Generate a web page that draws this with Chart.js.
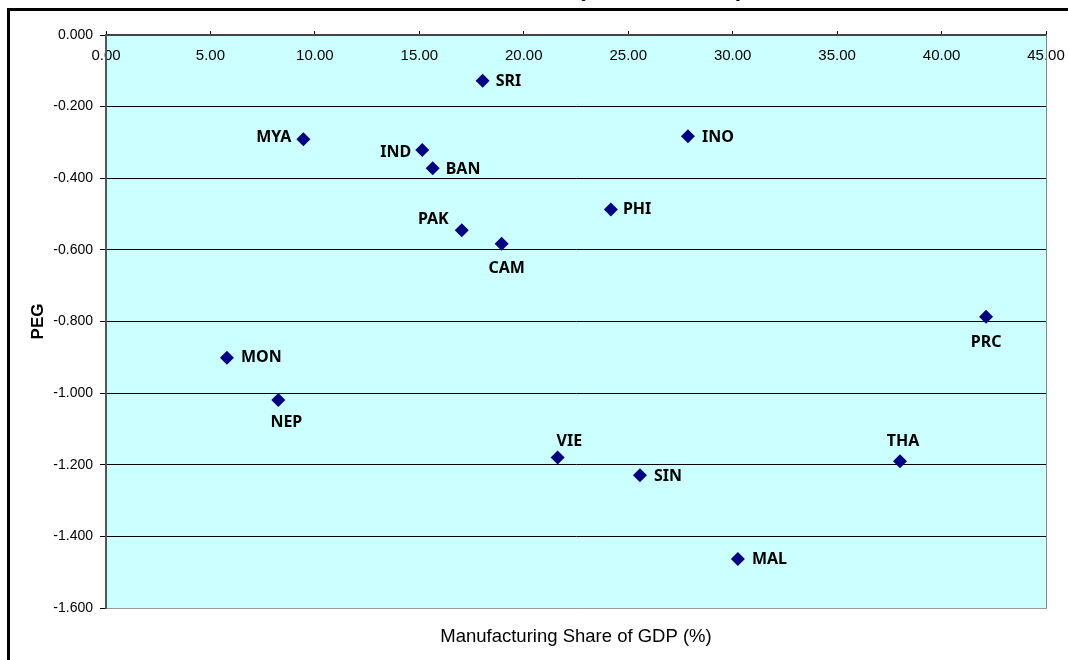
<!DOCTYPE html>
<html>
<head>
<meta charset="utf-8">
<script src="https://cdn.jsdelivr.net/npm/chart.js@4/dist/chart.umd.min.js"></script>
<style>
  html, body { margin: 0; padding: 0; background: #fff; }
  #wrap { position: relative; width: 1068px; height: 660px; overflow: hidden; }
  #frame { position: absolute; left: 7px; top: 8px; width: 1100px; height: 700px;
           border-left: 3px solid #000; border-top: 3px solid #000; }
  .paren { position: absolute; top: -24px; font: bold 22px "Liberation Sans", Arial, sans-serif; color: #000; }
  canvas { position: absolute; left: 0; top: 0; }
</style>
</head>
<body>
<div id="wrap">
  <div id="frame"></div>
  <span class="paren" style="left:578px">(</span>
  <span class="paren" style="left:736px">)</span>
  <canvas id="pegChart" width="1068" height="660"></canvas>
</div>
<script>
const countries = ['SRI', 'MYA', 'IND', 'BAN', 'PAK', 'CAM', 'INO', 'PHI', 'MON', 'NEP', 'VIE', 'PRC', 'THA', 'SIN', 'MAL'];
const manufShare = [18.03, 9.45, 15.14, 15.64, 17.03, 18.94, 27.86, 24.17, 5.79, 8.25, 21.62, 42.13, 38.01, 25.56, 30.25];
const peg = [-0.128, -0.291, -0.321, -0.372, -0.545, -0.583, -0.283, -0.487, -0.901, -1.019, -1.180, -0.787, -1.190, -1.229, -1.463];
const xTicks = [0, 5, 10, 15, 20, 25, 30, 35, 40, 45];
const yTicks = [0, -0.2, -0.4, -0.6, -0.8, -1.0, -1.2, -1.4, -1.6];

// where each country label sits next to its marker: text align, dx, dy
const labelPlace = [
  ['left', 13, 1], ['right', -12, -2], ['right', -11, 2], ['left', 13, 1], ['right', -13, -11],
  ['center', 5, 25], ['left', 14, 1], ['left', 12, 0], ['left', 14, 0], ['center', 8, 23],
  ['left', -1, -16], ['center', 0, 26], ['center', 3, -20], ['left', 14, 1], ['left', 14, 1]
];

const plotBackground = {
  id: 'plotBackground',
  beforeDraw(chart) {
    const { ctx, chartArea: a } = chart;
    ctx.save();
    ctx.fillStyle = '#CCFFFF';
    ctx.fillRect(a.left, a.top, a.right - a.left, a.bottom - a.top);
    ctx.restore();
  },
  beforeDatasetsDraw(chart) {
    const { ctx, chartArea: a } = chart;
    ctx.save();
    ctx.strokeStyle = '#888';
    ctx.lineWidth = 1;
    ctx.beginPath();
    ctx.moveTo(a.right + 0.5, a.top);
    ctx.lineTo(a.right + 0.5, a.bottom);
    ctx.stroke();
    ctx.restore();
  }
};

const countryLabels = {
  id: 'countryLabels',
  afterDatasetsDraw(chart) {
    const { ctx } = chart;
    const meta = chart.getDatasetMeta(0);
    ctx.save();
    ctx.font = 'bold 16px "Noto Sans", sans-serif';
    ctx.fillStyle = '#000';
    ctx.textBaseline = 'middle';
    meta.data.forEach((pt, i) => {
      const [align, dx, dy] = labelPlace[i];
      ctx.textAlign = align;
      ctx.fillText(countries[i], pt.x + dx, pt.y + dy);
    });
    ctx.restore();
  }
};

new Chart(document.getElementById('pegChart'), {
  type: 'scatter',
  data: {
    datasets: [{
      data: manufShare.map((x, i) => ({ x: x, y: peg[i] })),
      pointStyle: 'rectRot',
      pointRadius: 7,
      pointHoverRadius: 7,
      backgroundColor: '#000080',
      borderColor: '#000080',
      borderWidth: 0
    }]
  },
  options: {
    responsive: false,
    animation: false,
    layout: { padding: { left: 0, top: 0, right: 22, bottom: 0 } },
    plugins: { legend: { display: false }, tooltip: { enabled: false } },
    scales: {
      x: {
        type: 'linear',
        position: 'top',
        min: 0,
        max: 45,
        afterBuildTicks: (s) => { s.ticks = xTicks.map((v) => ({ value: v })); },
        afterFit: (s) => {
          s.height = 35;
          s.paddingLeft = 0;
          s.paddingRight = 0;
        },
        ticks: {
          callback: (v) => Number(v).toFixed(2),
          autoSkip: false,
          maxRotation: 0,
          mirror: true,
          padding: 12,
          color: '#000',
          font: { family: 'Liberation Sans', size: 15 }
        },
        grid: { drawOnChartArea: false, tickLength: 4, tickColor: '#000' },
        border: { color: '#444', width: 2 }
      },
      x2: {
        type: 'linear',
        position: 'bottom',
        min: 0,
        max: 45,
        afterFit: (s) => { s.height = 52; },
        ticks: { display: false },
        grid: { display: false },
        border: { display: true, color: '#999', width: 1 },
        title: {
          display: true,
          text: 'Manufacturing Share of GDP (%)',
          color: '#000',
          font: { family: 'Liberation Sans', size: 18.5 },
          padding: { top: 0, bottom: 12 }
        }
      },
      y: {
        type: 'linear',
        position: 'left',
        min: -1.6,
        max: 0,
        afterBuildTicks: (s) => { s.ticks = yTicks.map((v) => ({ value: v })); },
        afterFit: (s) => { s.width = 106; },
        ticks: {
          callback: (v) => Number(v).toFixed(3),
          padding: 7,
          color: '#000',
          font: { family: 'Liberation Sans', size: 14 }
        },
        grid: {
          color: (c) => (c.tick && c.tick.value === 0 ? 'rgba(0,0,0,0)' : c.tick && c.tick.value === -1.6 ? '#999' : '#000'),
          tickLength: 6,
          tickColor: '#000',
          lineWidth: 1
        },
        border: { color: '#555', width: 2 },
        title: {
          display: true,
          text: 'PEG',
          color: '#000',
          font: { family: 'Liberation Sans', size: 17, weight: 'bold' },
          padding: { top: 28, bottom: 0 }
        }
      }
    }
  },
  plugins: [plotBackground, countryLabels]
});
</script>
</body>
</html>
